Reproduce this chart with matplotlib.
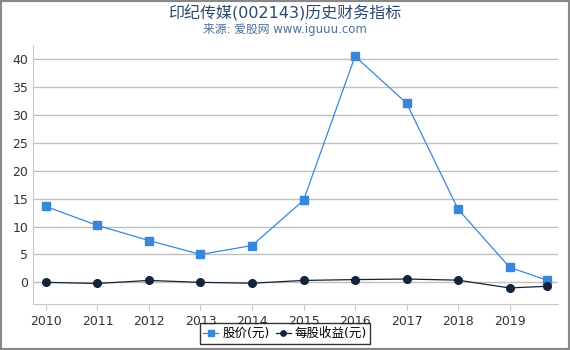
import matplotlib
matplotlib.use("Agg")
import matplotlib.pyplot as plt

plt.rcParams['font.family'] = ['DejaVu Sans', 'Noto Sans CJK SC']

years = [2010, 2011, 2012, 2013, 2014, 2015, 2016, 2017, 2018, 2019, 2019.72]
year_ticks = [2010, 2011, 2012, 2013, 2014, 2015, 2016, 2017, 2018, 2019]
price = [13.6, 10.2, 7.5, 5.0, 6.6, 14.7, 40.5, 32.1, 13.1, 2.7, 0.4]
eps = [0.0, -0.2, 0.35, 0.0, -0.15, 0.35, 0.5, 0.6, 0.4, -1.0, -0.7]

fig = plt.figure(figsize=(5.7, 3.5), dpi=100)
ax = fig.add_axes([0.058, 0.131, 0.921, 0.74])

ax.plot(years, price, "-s", color="#3a86d8", lw=0.9, ms=5.5, label="股价(元)")
ax.plot(years, eps, "-o", color="#13233a", lw=0.9, ms=5.5, label="每股收益(元)")

ax.set_xlim(2009.75, 2019.94)
ax.set_ylim(-3.9, 42.5)
ax.set_xticks(year_ticks)
ax.set_yticks(range(0, 41, 5))
ax.grid(axis="y", color="#c0c0c0", lw=1)
ax.set_axisbelow(True)
for s in ["top", "right"]:
    ax.spines[s].set_visible(False)
ax.spines["left"].set_color("#c8c8c8")
ax.spines["bottom"].set_color("#c8c8c8")
ax.tick_params(axis="y", length=0, labelsize=9, colors="#333333")
ax.tick_params(axis="x", length=4, color="#c8c8c8", labelsize=9, labelcolor="#333333")

fig.text(0.5, 0.966, "印纪传媒(002143)历史财务指标", ha="center", va="center",
         fontsize=11.5, color="#2c4a6e")
fig.text(0.5, 0.917, "来源: 爱股网 www.iguuu.com", ha="center", va="center",
         fontsize=8.5, color="#4f6f99")

leg = fig.legend(loc="lower center", bbox_to_anchor=(0.5, 0.0), ncol=2, fontsize=9,
                 frameon=True, fancybox=False, edgecolor="black", handlelength=1.2,
                 handletextpad=0.3, columnspacing=0.5, borderpad=0.3, markerscale=0.7)
leg.get_frame().set_linewidth(1)

fig.patches.append(plt.Rectangle((0, 0), 1, 1, transform=fig.transFigure, fill=False,
                                 edgecolor="#888888", lw=3))

fig.savefig("out.png", dpi=100)
